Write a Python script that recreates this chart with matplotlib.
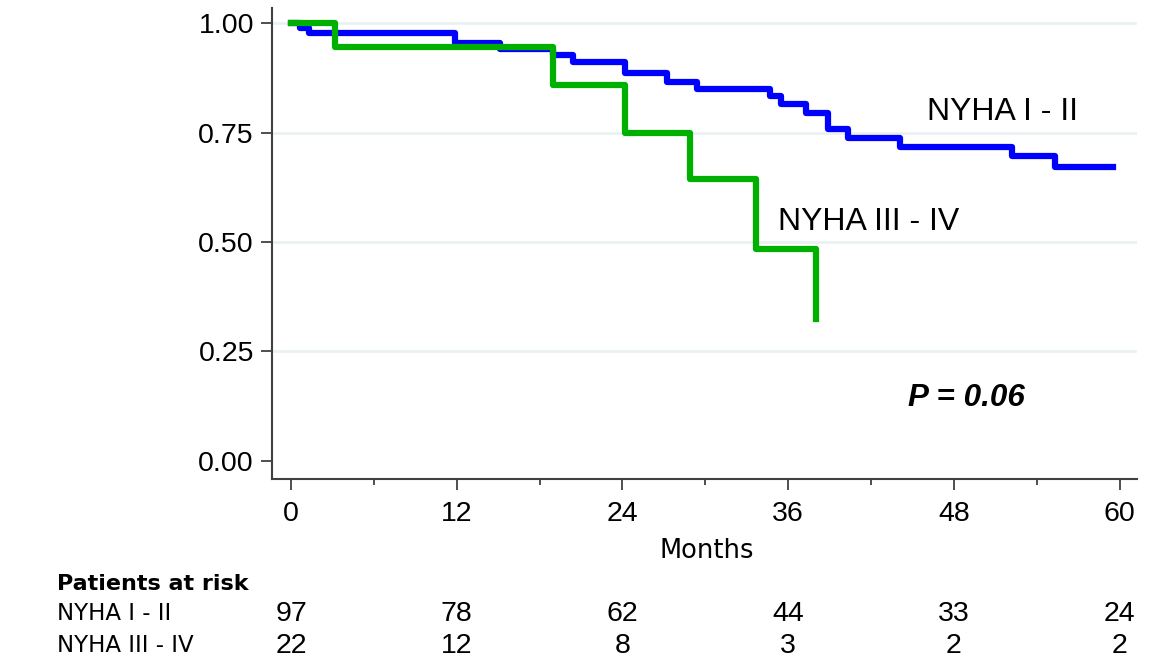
import matplotlib
matplotlib.use("Agg")
import matplotlib.pyplot as plt
from matplotlib.transforms import blended_transform_factory
from matplotlib.ticker import MultipleLocator

# Kaplan-Meier step data
t_12 = [0, 0.65, 1.3, 11.9, 15.1, 18.97, 20.4, 24.2, 27.2, 29.4, 34.7, 35.5,
        37.3, 38.9, 40.3, 44.1, 52.2, 55.3, 59.5]
s_12 = [1.0, 0.989, 0.979, 0.954, 0.941, 0.928, 0.912, 0.886, 0.867, 0.850,
        0.834, 0.815, 0.796, 0.758, 0.739, 0.717, 0.697, 0.671, 0.671]

t_34 = [0, 3.19, 18.97, 24.2, 28.9, 33.7, 38.0]
s_34 = [1.0, 0.945, 0.859, 0.750, 0.644, 0.484, 0.324]

x_ticks = [0, 12, 24, 36, 48, 60]
y_ticks = [0.00, 0.25, 0.50, 0.75, 1.00]
risk_times = [0, 12, 24, 36, 48, 60]
risk_12 = [97, 78, 62, 44, 33, 24]
risk_34 = [22, 12, 8, 3, 2, 2]
group_labels = ["NYHA I - II", "NYHA III - IV"]

ARIAL = "Liberation Sans"
VERD = "DejaVu Sans"
AX_COL = "#404040"
FS = 20.5

fig = plt.figure(figsize=(11.65, 6.66), dpi=100)
ax = fig.add_axes([272 / 1165, 1 - 479 / 666, (1137 - 272) / 1165, (479 - 8) / 666])

ax.step(t_12, s_12, where="post", color="#0000ff", lw=4.5, zorder=3)
ax.step(t_34, s_34, where="post", color="#00b000", lw=4.5, zorder=4)

ax.set_xlim(-1.376, 61.26)
ax.set_ylim(-0.0414, 1.035)

ax.spines["top"].set_visible(False)
ax.spines["right"].set_visible(False)
for sp in ("left", "bottom"):
    ax.spines[sp].set_color(AX_COL)
    ax.spines[sp].set_linewidth(1.5)

ax.set_xticks(x_ticks)
ax.set_xticklabels([str(v) for v in x_ticks], fontfamily=ARIAL, fontsize=FS)
ax.xaxis.set_minor_locator(MultipleLocator(6))
ax.set_yticks(y_ticks)
ax.set_yticklabels([f"{v:.2f}" for v in y_ticks], fontfamily=ARIAL, fontsize=FS)
ax.tick_params(axis="both", which="major", direction="out", length=8, width=1.3,
               color=AX_COL)
ax.tick_params(axis="x", which="major", pad=8)
ax.tick_params(axis="x", which="minor", direction="out", length=4, width=1.3, color=AX_COL)
ax.tick_params(axis="y", pad=5)

ax.yaxis.grid(True, color="#e8f0f2", lw=1.8, zorder=0)
ax.yaxis.get_gridlines()[0].set_visible(False)
ax.set_axisbelow(True)

ax.text(30.1, -0.205, "Months", transform=ax.transData, ha="center", va="center",
        fontfamily=VERD, fontsize=18.5, clip_on=False)

ax.text(51.5, 0.797, group_labels[0], ha="center", va="center", fontfamily=ARIAL, fontsize=23)
ax.text(41.85, 0.545, group_labels[1], ha="center", va="center", fontfamily=ARIAL, fontsize=23)
ax.text(48.9, 0.144, "P = 0.06", ha="center", va="center", fontfamily=ARIAL,
        fontsize=22.6, fontweight="bold", fontstyle="italic")

# Risk table
trans = blended_transform_factory(ax.transData, fig.transFigure)
fig.text(57 / 1165, 1 - 584 / 666, "Patients at risk", ha="left", va="center",
         fontfamily=VERD, fontsize=16, fontweight="bold")
row_y = [1 - 614 / 666, 1 - 646 / 666]
for lab, yy in zip(group_labels, row_y):
    fig.text(57 / 1165, yy, lab, ha="left", va="center", fontfamily=VERD, fontsize=16.5)
for vals, yy in zip([risk_12, risk_34], row_y):
    for t, v in zip(risk_times, vals):
        ax.text(t, yy, str(v), transform=trans, ha="center", va="center",
                fontfamily=ARIAL, fontsize=FS, clip_on=False)

fig.savefig("out.png", dpi=100)
